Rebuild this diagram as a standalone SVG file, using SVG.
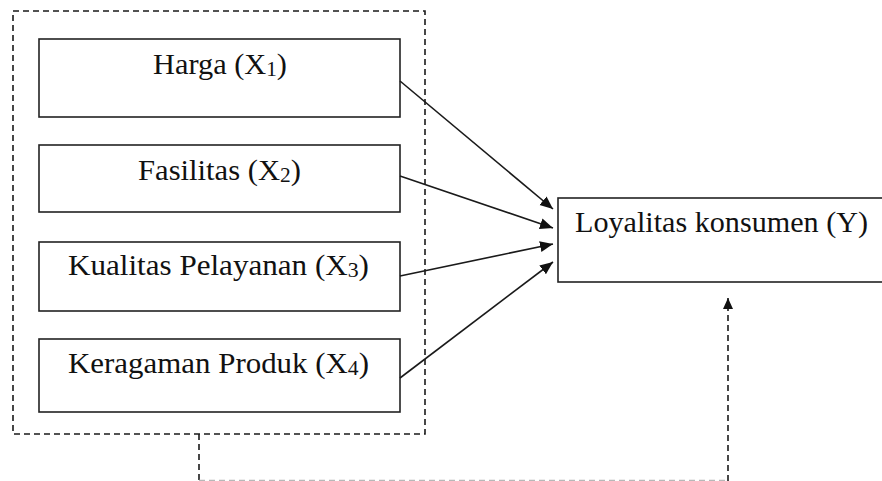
<svg xmlns="http://www.w3.org/2000/svg" width="882" height="481" viewBox="0 0 882 481">
<style>
.box{fill:#fff;stroke:#222;stroke-width:1.6}
.dash{fill:none;stroke:#1a1a1a;stroke-width:1.6;stroke-dasharray:6 4}
.faint{fill:none;stroke:#b8b8b8;stroke-width:1.4;stroke-dasharray:6 4}
.con{fill:none;stroke:#1a1a1a;stroke-width:1.6}
.t{font-family:"Liberation Serif","Times New Roman",serif;font-size:30px;fill:#111}
.s{font-size:21px}
</style>
<defs>
<marker id="ah" markerUnits="userSpaceOnUse" markerWidth="14" markerHeight="12" viewBox="0 0 14 12" refX="13" refY="6" orient="auto">
<path d="M0,0.5 L13,6 L0,11.5 z" fill="#111"/>
</marker>
<marker id="ah2" markerUnits="userSpaceOnUse" markerWidth="12" markerHeight="12" viewBox="0 0 12 12" refX="11" refY="6" orient="auto">
<path d="M0,1 L11,6 L0,11 z" fill="#111"/>
</marker>
</defs>
<rect id="group-x" class="dash" x="13" y="11" width="412" height="423"/>
<g id="x1">
<rect class="box" x="39" y="39" width="361" height="78"/>
<text class="t" x="153" y="74" textLength="134" lengthAdjust="spacingAndGlyphs">Harga (X<tspan class="s" dy="2">1</tspan><tspan dy="-2">)</tspan></text>
</g>
<g id="x2">
<rect class="box" x="39" y="145" width="361" height="67"/>
<text class="t" x="138" y="180" textLength="163" lengthAdjust="spacingAndGlyphs">Fasilitas (X<tspan class="s" dy="2">2</tspan><tspan dy="-2">)</tspan></text>
</g>
<g id="x3">
<rect class="box" x="39" y="242" width="361" height="69"/>
<text class="t" x="68" y="275" textLength="301" lengthAdjust="spacingAndGlyphs">Kualitas Pelayanan (X<tspan class="s" dy="2">3</tspan><tspan dy="-2">)</tspan></text>
</g>
<g id="x4">
<rect class="box" x="39" y="339" width="361" height="73"/>
<text class="t" x="68" y="373" textLength="301" lengthAdjust="spacingAndGlyphs">Keragaman Produk (X<tspan class="s" dy="2">4</tspan><tspan dy="-2">)</tspan></text>
</g>
<g id="y">
<rect class="box" x="558" y="198" width="330" height="84"/>
<text class="t" x="575" y="232" textLength="293" lengthAdjust="spacingAndGlyphs">Loyalitas konsumen (Y)</text>
</g>
<g id="connectors">
<line class="con" x1="400" y1="81" x2="553" y2="209" marker-end="url(#ah)"/>
<line class="con" x1="400" y1="176" x2="553" y2="228" marker-end="url(#ah)"/>
<line class="con" x1="400" y1="276" x2="553" y2="244" marker-end="url(#ah)"/>
<line class="con" x1="400" y1="378" x2="553" y2="262" marker-end="url(#ah)"/>
<line class="dash" x1="199" y1="434" x2="199" y2="480"/>
<line class="faint" x1="199" y1="480.5" x2="728" y2="480.5"/>
<line class="dash" x1="728" y1="481" x2="728" y2="298" marker-end="url(#ah2)"/>
</g>
</svg>
